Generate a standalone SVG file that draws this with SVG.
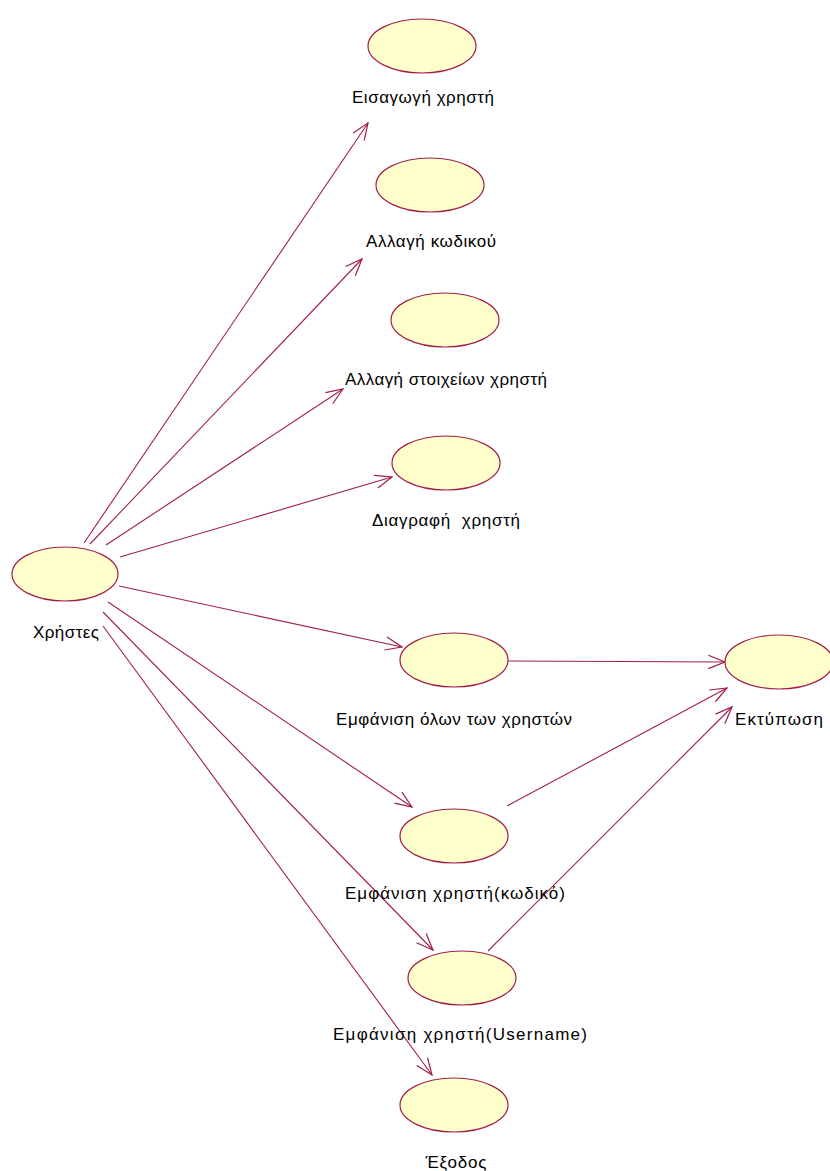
<svg xmlns="http://www.w3.org/2000/svg" width="830" height="1171" viewBox="0 0 830 1171">
<style>
.uc{fill:#FFFFCC;stroke:#A01E4A;stroke-width:1.2}
.lbl{font-family:"Liberation Sans",Arial,sans-serif;font-size:17px;fill:#000;text-anchor:middle}
.cn{stroke:#A01E4A;stroke-width:1.1;fill:none;marker-end:url(#arr)}
</style>
<defs>
<marker id="arr" markerUnits="userSpaceOnUse" markerWidth="20" markerHeight="20" viewBox="-16 -8 18 16" refX="0" refY="0" orient="auto">
<path d="M-15,-6 L0,0 L-15,6" fill="none" stroke="#A01E4A" stroke-width="1.1"/>
</marker>
</defs>
<rect width="830" height="1171" fill="#ffffff"/>
<g id="connectors">
<line class="cn" x1="84" y1="543" x2="368" y2="123"/>
<line class="cn" x1="90" y1="544" x2="362" y2="259"/>
<line class="cn" x1="106" y1="545" x2="343" y2="389"/>
<line class="cn" x1="120" y1="557" x2="392" y2="477"/>
<line class="cn" x1="119" y1="586" x2="402" y2="647"/>
<line class="cn" x1="108" y1="602" x2="412" y2="807"/>
<line class="cn" x1="103" y1="612" x2="433" y2="950"/>
<line class="cn" x1="103" y1="626" x2="432" y2="1075"/>
<line class="cn" x1="508" y1="661" x2="725" y2="662"/>
<line class="cn" x1="507" y1="806" x2="727" y2="688"/>
<line class="cn" x1="488" y1="951" x2="732" y2="707"/>
</g>
<g id="xristes"><ellipse class="uc" cx="65" cy="574" rx="53" ry="27"/><text class="lbl" x="66" y="638" textLength="66" lengthAdjust="spacing">Χρήστες</text></g>
<g id="eisagogi"><ellipse class="uc" cx="422" cy="46" rx="54" ry="27"/><text class="lbl" x="423" y="103" textLength="142" lengthAdjust="spacing">Εισαγωγή χρηστή</text></g>
<g id="allagi-kodikou"><ellipse class="uc" cx="430" cy="185" rx="54" ry="27"/><text class="lbl" x="431" y="247" textLength="130" lengthAdjust="spacing">Αλλαγή κωδικού</text></g>
<g id="allagi-stoixeion"><ellipse class="uc" cx="445" cy="320" rx="54" ry="27"/><text class="lbl" x="446" y="385" textLength="202" lengthAdjust="spacing">Αλλαγή στοιχείων χρηστή</text></g>
<g id="diagrafi"><ellipse class="uc" cx="446" cy="463" rx="54" ry="27"/><text class="lbl" x="446" y="526" textLength="148" lengthAdjust="spacing" xml:space="preserve">Διαγραφή  χρηστή</text></g>
<g id="emfanisi-olon"><ellipse class="uc" cx="454" cy="660" rx="54" ry="27"/><text class="lbl" x="454" y="725" textLength="236" lengthAdjust="spacing">Εμφάνιση όλων των χρηστών</text></g>
<g id="ektyposi"><ellipse class="uc" cx="779" cy="662" rx="54" ry="27"/><text class="lbl" x="779" y="725" textLength="88" lengthAdjust="spacing">Εκτύπωση</text></g>
<g id="emfanisi-kodiko"><ellipse class="uc" cx="454" cy="836" rx="54" ry="27"/><text class="lbl" x="455" y="899" textLength="220" lengthAdjust="spacing">Εμφάνιση χρηστή(κωδικό)</text></g>
<g id="emfanisi-username"><ellipse class="uc" cx="462" cy="978" rx="54" ry="27"/><text class="lbl" x="460" y="1040" textLength="254" lengthAdjust="spacing">Εμφάνιση χρηστή(Username)</text></g>
<g id="exodos"><ellipse class="uc" cx="454" cy="1105" rx="54" ry="27"/><text class="lbl" x="456" y="1168" textLength="61" lengthAdjust="spacing">Έξοδος</text></g>
</svg>
